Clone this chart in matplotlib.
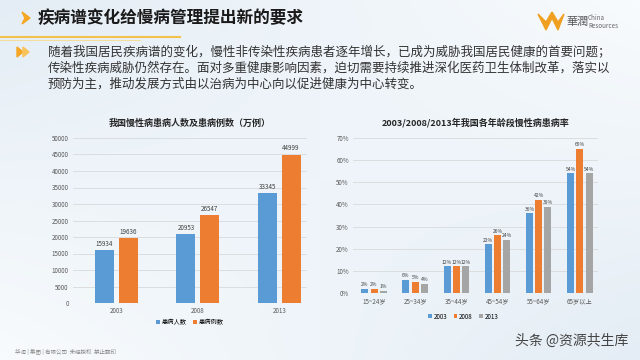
import numpy as np
import matplotlib.pyplot as plt
from matplotlib.patches import Polygon

plt.rcParams['font.family'] = ['Noto Sans CJK SC', 'DejaVu Sans']

# ---- data ----
years = ['2003', '2008', '2013']
patients = [15934, 20953, 33345]      # 患病人数
cases = [19636, 26547, 44999]         # 患病例数

age_groups = ['15~24岁', '25~34岁', '35~44岁', '45~54岁', '55~64岁', '65岁以上']
rate_2003 = [2, 6, 12, 22, 36, 54]
rate_2008 = [2, 5, 12, 26, 42, 65]
rate_2013 = [1, 4, 12, 24, 39, 54]

title = '疾病谱变化给慢病管理提出新的要求'
para = ['随着我国居民疾病谱的变化，慢性非传染性疾病患者逐年增长，已成为威胁我国居民健康的首要问题；',
        '传染性疾病威胁仍然存在。面对多重健康影响因素，迫切需要持续推进深化医药卫生体制改革，落实以',
        '预防为主，推动发展方式由以治病为中心向以促进健康为中心转变。']

blue, orange, gray = '#5b9bd5', '#ed7d31', '#a5a5a5'
W, H = 640, 360

fig = plt.figure(figsize=(6.4, 3.6), dpi=100)

def box(x0, y0, x1, y1):
    # pixel box (top-left origin) -> figure rect
    return [x0 / W, 1 - y1 / H, (x1 - x0) / W, (y1 - y0) / H]

# background gradient
bg = fig.add_axes([0, 0, 1, 1])
gx = np.linspace(0, 1, 200)
gy = np.linspace(0, 1, 120)
X, Y = np.meshgrid(gx, gy)
grad = 0.5 * (1 - X) * (1 - Y) + 0.5 * X * Y
bg.imshow(grad, cmap=plt.matplotlib.colors.LinearSegmentedColormap.from_list('bg', ['#f8fbfd', '#e4edf5']),
          extent=[0, W, H, 0], aspect='auto')
bg.set_xlim(0, W)
bg.set_ylim(H, 0)
bg.axis('off')

# header
bg.add_patch(Polygon([[22, 12], [30, 18], [22, 24], [25, 18]], closed=True, color='#f5a623'))
bg.text(38, 18, title, fontsize=12, fontweight='bold', color='#1a1a1a', va='center', ha='left')
bg.plot([0, 180], [37, 37], color='#f2c14e', lw=1.5)
bg.plot([0, 140], [40, 40], color='#f7d98a', lw=0.6)
# logo
bg.add_patch(Polygon([[538, 14], [546, 30], [552, 18], [558, 30], [564, 14], [558, 22], [552, 12], [546, 22]],
                     closed=True, color='#f0a020'))
bg.text(566, 22, '華潤', fontsize=8, color='#555555', va='center', ha='left')
bg.text(588, 18, 'China', fontsize=4.5, color='#666666', va='center', ha='left')
bg.text(588, 26, 'Resources', fontsize=4.5, color='#666666', va='center', ha='left')

# paragraph
bg.add_patch(Polygon([[17, 47], [23, 52], [17, 57]], closed=True, color='#f5a623'))
bg.add_patch(Polygon([[23, 47], [29, 52], [23, 57]], closed=True, color='#f7c35a'))
for i, line in enumerate(para):
    bg.text(48, 52 + i * 16, line, fontsize=9.0, color='#333333', va='center', ha='left')

# footer
bg.text(15, 352, '华润 | 集团 | 有限公司  未经授权  禁止翻印', fontsize=4, color='#888888', va='center', ha='left')
bg.text(628, 341, '头条 @资源共生库', fontsize=10, color='#444444', va='center', ha='right')

# ---- left chart ----
ax1 = fig.add_axes(box(73, 138, 307, 303))
x = np.arange(len(years))
bw = 0.233
b1 = ax1.bar(x - 0.145, patients, bw, color=blue, label='患病人数', zorder=3)
b2 = ax1.bar(x + 0.145, cases, bw, color=orange, label='患病例数', zorder=3)
for bars in (b1, b2):
    for r in bars:
        ax1.text(r.get_x() + r.get_width() / 2, r.get_height() + 700, f'{int(r.get_height())}',
                 ha='center', va='bottom', fontsize=4.5, color='#404040')
ax1.set_ylim(0, 50000)
ax1.set_yticks(range(0, 50001, 5000))
ax1.set_xlim(-0.53, 2.34)
ax1.set_xticks(x)
ax1.set_xticklabels(years)
ax1.tick_params(labelsize=4.5, colors='#595959', length=0, pad=3)
ax1.grid(axis='y', color='#d9d9d9', lw=0.6, zorder=0)
for s in ax1.spines.values():
    s.set_visible(False)
ax1.set_facecolor('none')
ax1.set_title('我国慢性病患病人数及患病例数（万例）', fontsize=6.5, fontweight='bold', color='#262626', pad=9)
ax1.legend(loc='upper center', bbox_to_anchor=(0.5, -0.06), ncol=2, frameon=False, fontsize=4.5,
           handlelength=0.6, handleheight=0.6, columnspacing=1.0, handletextpad=0.3)

# ---- right chart ----
ax2 = fig.add_axes(box(353, 138, 598, 293))
x2 = np.arange(len(age_groups))
bw2 = 0.17
series = [(rate_2003, blue, '2003'), (rate_2008, orange, '2008'), (rate_2013, gray, '2013')]
for k, (vals, c, lab) in enumerate(series):
    bars = ax2.bar(x2 + (k - 1) * 0.225, vals, bw2, color=c, label=lab, zorder=3)
    for r in bars:
        ax2.text(r.get_x() + r.get_width() / 2, r.get_height() + 0.8, f'{int(r.get_height())}%',
                 ha='center', va='bottom', fontsize=3.6, color='#404040')
ax2.set_ylim(0, 70)
ax2.set_yticks(range(0, 71, 10))
ax2.set_yticklabels([f'{v}%' for v in range(0, 71, 10)])
ax2.set_xlim(-0.51, 5.44)
ax2.set_xticks(x2)
ax2.set_xticklabels(age_groups)
ax2.tick_params(labelsize=4.5, colors='#595959', length=0, pad=3)
ax2.grid(axis='y', color='#d9d9d9', lw=0.6, zorder=0)
for s in ax2.spines.values():
    s.set_visible(False)
ax2.set_facecolor('none')
ax2.set_title('2003/2008/2013年我国各年龄段慢性病患病率', fontsize=6.5, fontweight='bold', color='#262626', pad=9)
ax2.legend(loc='upper center', bbox_to_anchor=(0.45, -0.09), ncol=3, frameon=False, fontsize=4.5,
           handlelength=0.6, handleheight=0.6, columnspacing=1.0, handletextpad=0.3)

fig.savefig('out.png', dpi=100)
